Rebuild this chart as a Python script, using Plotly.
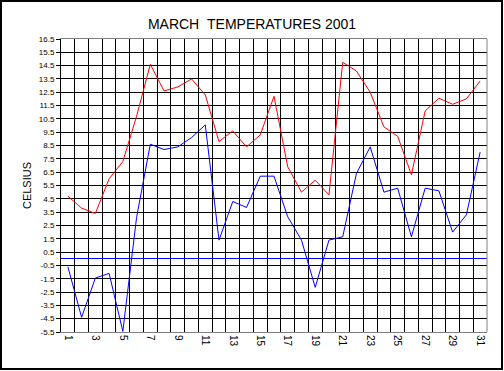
import plotly.graph_objects as go

days = list(range(1, 32))
max_temp = [4.7, 3.8, 3.4, 6.0, 7.3, 10.7, 14.6, 12.6, 12.9, 13.5, 12.3, 8.8, 9.6, 8.4, 9.3,
            12.2, 6.9, 5.0, 5.9, 4.8, 14.75, 14.1, 12.5, 9.9, 9.2, 6.3, 11.1, 12.05, 11.6, 12.0, 13.35]
min_temp = [-0.6, -4.4, -1.45, -1.1, -5.45, 3.1, 8.6, 8.2, 8.4, 9.1, 10.05, 1.4, 4.3, 3.85, 6.2,
            6.2, 3.15, 1.4, -2.15, 1.4, 1.65, 6.4, 8.4, 5.0, 5.3, 1.65, 5.3, 5.1, 2.0, 3.3, 8.0]
x_tick_labels = [str(d) for d in range(1, 32, 2)]
y_tick_vals = [v + 0.5 for v in range(-6, 17)]
y_tick_labels = [f"{v:.1f}" for v in y_tick_vals]

fig = go.Figure()
fig.add_trace(go.Scatter(x=days, y=max_temp, mode="lines", line=dict(color="#FF0000", width=1),
                         name="Max", hoverinfo="x+y"))
fig.add_trace(go.Scatter(x=days, y=min_temp, mode="lines", line=dict(color="#0000FF", width=1),
                         name="Min", hoverinfo="x+y"))

fig.update_layout(
    width=504, height=371,
    margin=dict(l=61, r=17, t=39, b=39),
    paper_bgcolor="white", plot_bgcolor="white",
    showlegend=False,
    title=dict(text="MARCH\u00a0\u00a0TEMPERATURES 2001", x=0.5, xanchor="center",
               y=1 - 24 / 371, yanchor="middle",
               font=dict(family="Liberation Sans, Arial", size=14, color="black")),
    font=dict(family="Liberation Sans, Arial", color="black"),
)
fig.update_xaxes(
    range=[0.5, 31.5],
    tickmode="array", tickvals=list(range(1, 32, 2)), ticktext=x_tick_labels,
    tickangle=90, tickfont=dict(size=10),
    showgrid=False, zeroline=False,
    ticks="", showline=True, linecolor="#808080", linewidth=1, mirror=True,
    minor=dict(tickmode="linear", tick0=0.5, dtick=1, showgrid=True, gridcolor="black", gridwidth=1, ticks=""),
)
fig.update_yaxes(
    range=[-5.5, 16.5],
    tickmode="array", tickvals=y_tick_vals, ticktext=y_tick_labels,
    tickfont=dict(size=8, family="Liberation Sans, Arial"),
    showgrid=True, gridcolor="black", gridwidth=1,
    zeroline=True, zerolinecolor="#0000FF", zerolinewidth=1,
    ticks="outside", ticklen=4, tickcolor="black",
    showline=True, linecolor="black", linewidth=1,
    title=dict(text="CELSIUS", font=dict(size=11), standoff=4),
)
# right plot border (gray)
fig.add_shape(type="line", xref="x domain", yref="y domain", x0=1, x1=1, y0=0, y1=1,
              line=dict(color="#808080", width=1))
# outer frame of the picture
fig.add_shape(type="rect", xref="paper", yref="paper",
              x0=(1 - 61) / 426, x1=(502 - 61) / 426,
              y0=(332 - 369) / 293, y1=(332 - 1) / 293,
              line=dict(color="black", width=2), fillcolor="rgba(0,0,0,0)", layer="above")

fig.write_html("out.html", config={"displayModeBar": False},
               post_script="document.body.style.margin='0';document.body.style.overflow='hidden';")
